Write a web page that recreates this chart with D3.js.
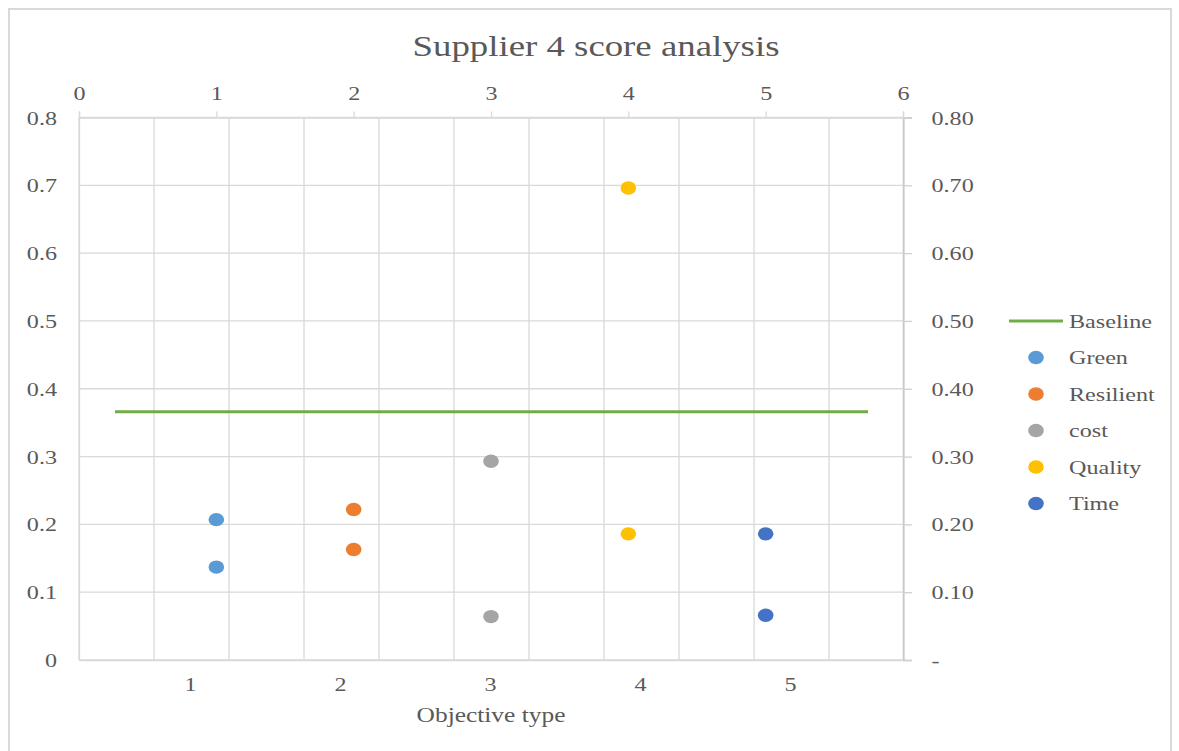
<!DOCTYPE html>
<html>
<head>
<meta charset="utf-8">
<script src="https://cdn.jsdelivr.net/npm/d3@7"></script>
<style>
  body { margin: 0; background: #fff; }
  svg { display: block; }
  text { font-family: "Liberation Serif", "Times New Roman", serif; fill: #595959; }
</style>
</head>
<body>
<svg id="chart" width="1179" height="751"></svg>
<script>
// Series of the scatter: one pair of scores per objective type
const seriesNames = ["Green", "Resilient", "cost", "Quality", "Time"];
const seriesColors = ["#5B9BD5", "#ED7D31", "#A5A5A5", "#FFC000", "#4472C4"];
const objectiveX = [1, 2, 3, 4, 5];
const scoresFirst = [0.207, 0.222, 0.293, 0.696, 0.186];
const scoresSecond = [0.137, 0.163, 0.064, 0.186, 0.066];

// Baseline (line series on the category axis)
const baselineValue = 0.366;
const baselineSpan = [0.5, 5.52];
const baselineColor = "#70AD47";

// Axis ticks
const categoryTicks = [1, 2, 3, 4, 5];
const topTicks = [0, 1, 2, 3, 4, 5, 6];
const valueTicks = [0, 0.1, 0.2, 0.3, 0.4, 0.5, 0.6, 0.7, 0.8];

const W = 1179, H = 751;
const plot = { left: 79, right: 903, top: 117.5, bottom: 660 };
const SX = 1.27; // horizontal stretch of the serif lettering

const svg = d3.select("#chart");

// Chart-area border
svg.append("rect")
  .attr("x", 9).attr("y", 9).attr("width", 1162).attr("height", 800)
  .attr("fill", "#fff").attr("stroke", "#d9d9d9").attr("stroke-width", 2);

const xTop = d3.scaleLinear().domain([0, 6]).range([plot.left, plot.right]);
const xCat = d3.scaleLinear().domain([0.26, 5.753]).range([plot.left, plot.right]);
const y = d3.scaleLinear().domain([0, 0.8]).range([plot.bottom, plot.top]);

const grid = svg.append("g").attr("stroke", "#d9d9d9").attr("stroke-width", 1.3);

// Horizontal gridlines
grid.selectAll("line.h").data(valueTicks).join("line")
  .attr("x1", plot.left).attr("x2", plot.right)
  .attr("y1", d => y(d)).attr("y2", d => y(d));

// Vertical gridlines every half unit of the category axis
const vGrid = d3.range(xCat.domain()[0], xCat.domain()[1] + 0.01, 0.5);
grid.selectAll("line.v").data(vGrid).join("line")
  .attr("x1", d => xCat(d)).attr("x2", d => xCat(d))
  .attr("y1", plot.top).attr("y2", plot.bottom);

function stretchText(sel, dx, dy) {
  sel.selectAll("text")
    .attr("x", dx / SX).attr("y", dy).attr("dy", null)
    .attr("transform", `scale(${SX},1)`)
    .style("font-size", "19px")
    .attr("fill", "#595959");
}

// Left value axis
const leftAxis = svg.append("g").attr("transform", `translate(${plot.left},0)`)
  .call(d3.axisLeft(y).tickValues(valueTicks).tickSize(0)
    .tickFormat(d => d === 0 ? "0" : d3.format(".1f")(d)));
leftAxis.select(".domain").attr("stroke", "#d9d9d9").attr("stroke-width", 1.3);
stretchText(leftAxis, -22, 6.5);

// Right value axis
const rightAxis = svg.append("g").attr("transform", `translate(${plot.right},0)`)
  .call(d3.axisRight(y).tickValues(valueTicks).tickSize(9)
    .tickFormat(d => d === 0 ? "-" : d3.format(".2f")(d)));
rightAxis.select(".domain").attr("stroke", "#c8c8c8").attr("stroke-width", 1.5);
rightAxis.selectAll(".tick line").attr("stroke", "#d0d0d0").attr("stroke-width", 1.3);
stretchText(rightAxis, 28.5, 6.5);

// Top axis (scatter x values)
const topAxis = svg.append("g").attr("transform", `translate(0,${plot.top})`)
  .call(d3.axisTop(xTop).tickValues(topTicks).tickSize(6).tickFormat(d3.format("d")));
topAxis.select(".domain").attr("stroke", "#d9d9d9").attr("stroke-width", 1.3);
topAxis.selectAll(".tick line").attr("stroke", "#d9d9d9").attr("stroke-width", 1.3);
stretchText(topAxis, 0, -17.5);

// Bottom category axis
const bottomAxis = svg.append("g").attr("transform", `translate(0,${plot.bottom})`)
  .call(d3.axisBottom(xCat).tickValues(categoryTicks).tickSize(0).tickFormat(d3.format("d")));
bottomAxis.select(".domain").attr("stroke", "#d9d9d9").attr("stroke-width", 1.6);
stretchText(bottomAxis, 0, 31);

// Baseline
svg.append("line")
  .attr("x1", xCat(baselineSpan[0])).attr("x2", xCat(baselineSpan[1]))
  .attr("y1", y(baselineValue)).attr("y2", y(baselineValue))
  .attr("stroke", baselineColor).attr("stroke-width", 3);

// Scatter markers
const points = [];
seriesNames.forEach((name, i) => {
  points.push({ x: objectiveX[i], v: scoresFirst[i], c: seriesColors[i] });
  points.push({ x: objectiveX[i], v: scoresSecond[i], c: seriesColors[i] });
});
svg.append("g").selectAll("ellipse").data(points).join("ellipse")
  .attr("cx", d => xTop(d.x)).attr("cy", d => y(d.v))
  .attr("rx", 7.8).attr("ry", 6.7)
  .attr("fill", d => d.c);

// Title
svg.append("text")
  .attr("transform", `translate(596,56) scale(${SX},1)`)
  .attr("text-anchor", "middle")
  .style("font-size", "29px")
  .text("Supplier 4 score analysis");

// Axis title
svg.append("text")
  .attr("transform", `translate(491,722) scale(${SX},1)`)
  .attr("text-anchor", "middle")
  .style("font-size", "20px")
  .text("Objective type");

// Legend
const legend = svg.append("g");
const legendY0 = 321, legendStep = 36.5, legendTextX = 1069;
legend.append("line")
  .attr("x1", 1009).attr("x2", 1063).attr("y1", legendY0).attr("y2", legendY0)
  .attr("stroke", baselineColor).attr("stroke-width", 3);
legend.append("text")
  .attr("transform", `translate(${legendTextX},${legendY0 + 6.5}) scale(${SX},1)`)
  .style("font-size", "19px").text("Baseline");
seriesNames.forEach((name, i) => {
  const cy = legendY0 + legendStep * (i + 1);
  legend.append("ellipse")
    .attr("cx", 1036).attr("cy", cy).attr("rx", 7.8).attr("ry", 6.7)
    .attr("fill", seriesColors[i]);
  legend.append("text")
    .attr("transform", `translate(${legendTextX},${cy + 6.5}) scale(${SX},1)`)
    .style("font-size", "19px").text(name);
});
</script>
</body>
</html>
